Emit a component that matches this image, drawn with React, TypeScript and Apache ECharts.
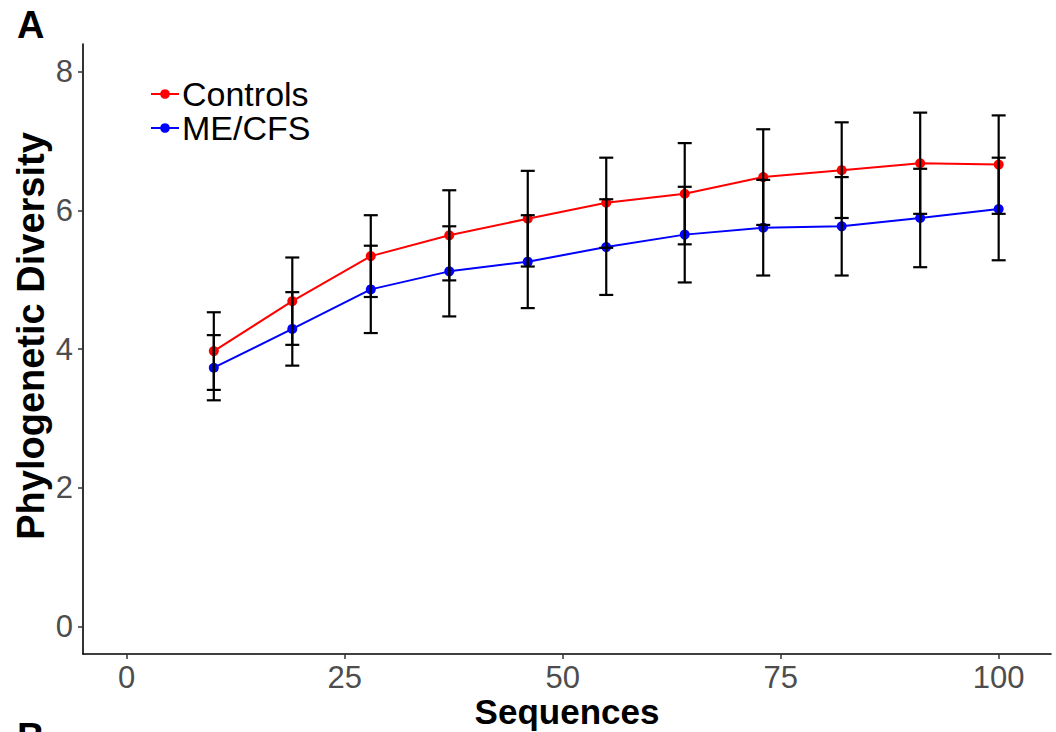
import React, { useEffect, useRef } from "react";
import * as echarts from "echarts";

const sequences = [10, 19, 28, 37, 46, 55, 64, 73, 82, 91, 100];
const controlsMean = [3.97, 4.69, 5.34, 5.64, 5.88, 6.11, 6.24, 6.48, 6.58, 6.68, 6.66];
const controlsErr = [0.56, 0.63, 0.59, 0.65, 0.69, 0.65, 0.73, 0.69, 0.69, 0.73, 0.71];
const mecfsMean = [3.73, 4.29, 4.86, 5.12, 5.26, 5.47, 5.65, 5.75, 5.77, 5.89, 6.02];
const mecfsErr = [0.47, 0.53, 0.63, 0.65, 0.67, 0.69, 0.69, 0.69, 0.71, 0.71, 0.74];
const xTicks = [0, 25, 50, 75, 100];
const yTicks = [0, 2, 4, 6, 8];

const FONT = "'Liberation Sans', Arial, Helvetica, sans-serif";

export default function App() {
  const ref = useRef<HTMLDivElement>(null);
  useEffect(() => {
    document.body.style.margin = "0";
    const chart = echarts.init(ref.current!, null, { renderer: "svg" });
    const errData: number[][] = [];
    sequences.forEach((x, i) => {
      errData.push([x, controlsMean[i] - controlsErr[i], controlsMean[i] + controlsErr[i]]);
      errData.push([x, mecfsMean[i] - mecfsErr[i], mecfsMean[i] + mecfsErr[i]]);
    });
    const renderErr = (params: any, api: any) => {
      const x = api.value(0);
      const lo = api.coord([x, api.value(1)]);
      const hi = api.coord([x, api.value(2)]);
      const hw = 7;
      const style = { stroke: "#000", lineWidth: 2.2 };
      return {
        type: "group",
        children: [
          { type: "line", shape: { x1: lo[0], y1: lo[1], x2: hi[0], y2: hi[1] }, style },
          { type: "line", shape: { x1: lo[0] - hw, y1: lo[1], x2: lo[0] + hw, y2: lo[1] }, style },
          { type: "line", shape: { x1: hi[0] - hw, y1: hi[1], x2: hi[0] + hw, y2: hi[1] }, style },
        ],
      };
    };
    const axisCommon = {
      axisLine: { show: true, onZero: false, lineStyle: { color: "#000", width: 1.6 } },
      axisTick: { show: true, length: 5, lineStyle: { color: "#333", width: 1.5 } },
      splitLine: { show: false },
    };
    chart.setOption({
      animation: false,
      backgroundColor: "#fff",
      grid: { left: 83, right: 5, top: 44, bottom: 78, containLabel: false, outerBoundsMode: "none" },
      legend: {
        orient: "vertical",
        left: 145,
        top: 72,
        itemWidth: 28,
        itemHeight: 12,
        itemGap: 0,
        textStyle: { fontFamily: FONT, fontSize: 34, color: "#000", lineHeight: 34, padding: [0, 0, 0, -2] },
        data: ["Controls", "ME/CFS"],
      },
      xAxis: {
        type: "value",
        min: -5,
        max: 106,
        ...axisCommon,
        axisTick: { ...axisCommon.axisTick, customValues: xTicks },
        axisLabel: {
          customValues: xTicks,
          fontFamily: FONT,
          fontSize: 31,
          color: "#4D4D4D",
          margin: 8,
        },
        name: "Sequences",
        nameLocation: "middle",
        nameGap: 40,
        nameMoveOverlap: false,
        nameTextStyle: { fontFamily: FONT, fontSize: 35, fontWeight: "bold", color: "#000" },
      },
      yAxis: {
        type: "value",
        min: -0.4,
        max: 8.4,
        ...axisCommon,
        axisTick: { ...axisCommon.axisTick, customValues: yTicks },
        axisLabel: {
          customValues: yTicks,
          fontFamily: FONT,
          fontSize: 31,
          color: "#4D4D4D",
          margin: 10,
        },
      },
      graphic: [
        {
          type: "text",
          x: 31,
          y: 336,
          rotation: Math.PI / 2,
          style: {
            text: "Phylogenetic Diversity",
            font: `bold 38px ${FONT}`,
            fill: "#000",
            textAlign: "center",
            textVerticalAlign: "middle",
          },
        },
        {
          type: "text",
          left: 17,
          top: 6,
          style: { text: "A", font: `bold 38px ${FONT}`, fill: "#000" },
        },
        {
          type: "text",
          left: 17,
          top: 718,
          style: { text: "B", font: `bold 38px ${FONT}`, fill: "#000" },
        },
      ],
      series: [
        {
          name: "Controls",
          type: "line",
          data: sequences.map((x, i) => [x, controlsMean[i]]),
          symbol: "circle",
          symbolSize: 10,
          itemStyle: { color: "#FF0000" },
          lineStyle: { color: "#FF0000", width: 2 },
          z: 2,
        },
        {
          name: "ME/CFS",
          type: "line",
          data: sequences.map((x, i) => [x, mecfsMean[i]]),
          symbol: "circle",
          symbolSize: 10,
          itemStyle: { color: "#0000FF" },
          lineStyle: { color: "#0000FF", width: 2 },
          z: 2,
        },
        {
          type: "custom",
          renderItem: renderErr,
          data: errData,
          z: 3,
          encode: { x: 0, y: [1, 2] },
        },
      ],
    });
    return () => chart.dispose();
  }, []);
  return <div ref={ref} style={{ width: 1056, height: 732 }} />;
}
